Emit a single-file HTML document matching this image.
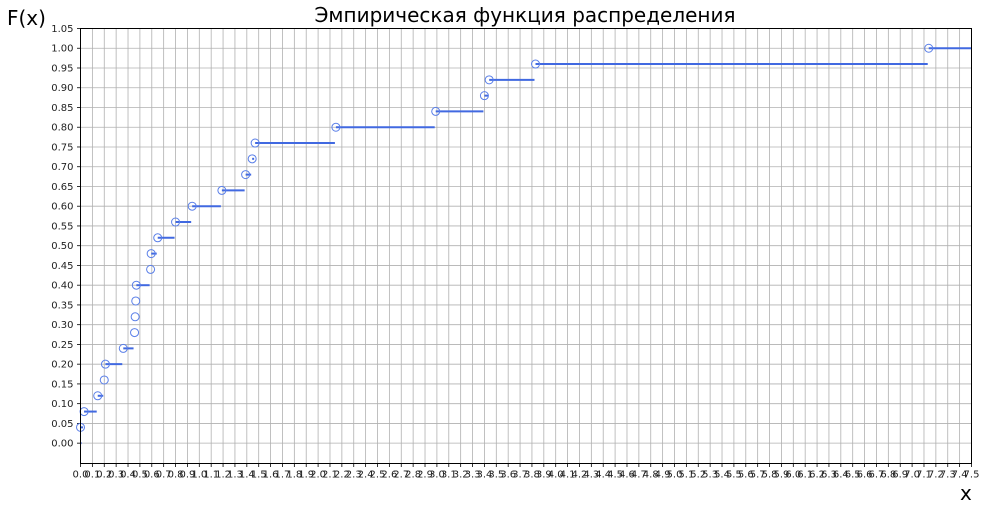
<!DOCTYPE html>
<html><head><meta charset="utf-8"><style>
html,body{margin:0;padding:0;background:#fff;}
svg{display:block;font-family:"DejaVu Sans","Liberation Sans",sans-serif;}
</style></head><body>
<svg id="chart" width="985" height="510" viewBox="0 0 985 510">
<text x="525" y="22" font-size="20" text-anchor="middle">Эмпирическая функция распределения</text>
<text x="7" y="25" font-size="20">F(x)</text>
<text x="960" y="500" font-size="20">x</text>
<g id="grid"></g><g id="ticks"></g><g id="series"></g>
<rect x="80.5" y="28.5" width="891" height="435" fill="none" stroke="#000" stroke-width="1"/>
</svg>
<script>
const sampleX = [0.00,0.03,0.145,0.20,0.21,0.36,0.455,0.46,0.465,0.47,0.59,0.595,0.65,0.80,0.94,1.19,1.39,1.445,1.47,2.15,2.99,3.40,3.44,3.83,7.14];
const cdfValues = [0.04,0.08,0.12,0.16,0.20,0.24,0.28,0.32,0.36,0.40,0.44,0.48,0.52,0.56,0.60,0.64,0.68,0.72,0.76,0.80,0.84,0.88,0.92,0.96,1.00];
const yTicks = [0,0.05,0.1,0.15,0.2,0.25,0.3,0.35,0.4,0.45,0.5,0.55,0.6,0.65,0.7,0.75,0.8,0.85,0.9,0.95,1.0,1.05];
const xTickCount = 76;

const L=80.5,R=971.5,T=28.5,B=463.5;
const xMin=0,xMax=7.5,yMin=-0.0515,yMax=1.05;
const sx=v=>L+(v-xMin)/(xMax-xMin)*(R-L);
const sy=v=>B-(v-yMin)/(yMax-yMin)*(B-T);
const NS="http://www.w3.org/2000/svg";
function mk(tag,attrs,parent){const e=document.createElementNS(NS,tag);for(const k in attrs)e.setAttribute(k,attrs[k]);document.getElementById(parent).appendChild(e);return e;}

for(let i=0;i<xTickCount;i++){
  const v=i/10,x=sx(v);
  const g=mk('line',{x1:x,x2:x,y1:T,y2:B,stroke:'#b0b0b0','stroke-width':0.8},'grid');
  
  
  const t=mk('line',{x1:x,x2:x,y1:B,y2:B+3.5,stroke:'#000','stroke-width':0.8},'ticks');
  
  
  const l=mk('text',{x:x,y:B+14,'font-size':10,'text-anchor':'middle',fill:'#222'},'ticks');
  l.textContent=v.toFixed(1);
  
  
}
yTicks.forEach(v=>{
  const y=sy(v);
  const g=mk('line',{x1:L,x2:R,y1:y,y2:y,stroke:'#b0b0b0','stroke-width':0.8},'grid');
  
  
  const t=mk('line',{x1:L-3.5,x2:L,y1:y,y2:y,stroke:'#000','stroke-width':0.8},'ticks');
  
  
  const l=mk('text',{x:L-7,y:y+3.5,'font-size':10,'text-anchor':'end',fill:'#222'},'ticks');
  l.textContent=v.toFixed(2);
  
  
});

const s0=mk('line',{x1:L,x2:sx(sampleX[0])+1,y1:sy(0),y2:sy(0),stroke:'#4169e1','stroke-width':2},'series');


for(let i=0;i<sampleX.length;i++){
  const x1=sx(sampleX[i]);
  const x2=i<sampleX.length-1?sx(sampleX[i+1])-1:R;
  const y=sy(cdfValues[i]);
  const s=mk('line',{x1:x1,x2:Math.max(x1,x2),y1:y,y2:y,stroke:'#4169e1','stroke-width':2},'series');
  
  
  const c=mk('circle',{cx:x1,cy:y,r:4,fill:'none',stroke:'#5a7fe8','stroke-width':1},'series');
  
  
}
</script>
</body></html>
